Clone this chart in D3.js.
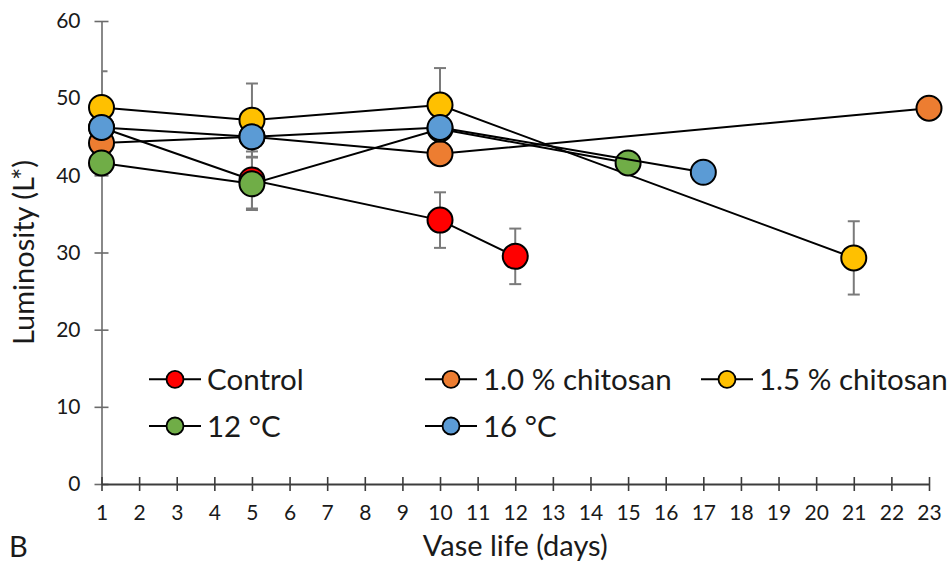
<!DOCTYPE html>
<html>
<head>
<meta charset="utf-8">
<script src="https://cdn.jsdelivr.net/npm/d3@7"></script>
<style>
  html, body { margin: 0; padding: 0; background: #fff; }
  svg { display: block; font-family: Lato, "Open Sans", sans-serif; }
</style>
</head>
<body>
<svg id="chart" width="949" height="567"></svg>
<script>
// Vase life sampling days and luminosity (L*) per treatment
const seriesNames = ["Control", "1.0 % chitosan", "1.5 % chitosan", "12 °C", "16 °C"];
const seriesColors = ["#FF0000", "#ED7D31", "#FFC000", "#70AD47", "#5B9BD5"];

const controlDays = [1, 5, 10, 12];
const controlL = [46.2, 39.4, 34.2, 29.5];
const controlErr = [null, 3.7, 3.6, 3.6];

const chitosan10Days = [1, 5, 10, 23];
const chitosan10L = [44.2, 45.0, 42.8, 48.7];
const chitosan10Err = [null, null, null, null];

const chitosan15Days = [1, 5, 10, 21];
const chitosan15L = [48.8, 47.15, 49.1, 29.3];
const chitosan15Err = [4.7, 4.75, 4.8, 4.75];

const temp12Days = [1, 5, 10, 15];
const temp12L = [41.6, 38.9, 46.0, 41.6];
const temp12Err = [null, 3.4, null, null];

const temp16Days = [1, 5, 10, 17];
const temp16L = [46.2, 45.0, 46.2, 40.4];
const temp16Err = [null, null, null, null];

const xTicks = d3.range(1, 24);
const yTicks = [0, 10, 20, 30, 40, 50, 60];

const allDays = [controlDays, chitosan10Days, chitosan15Days, temp12Days, temp16Days];
const allL = [controlL, chitosan10L, chitosan15L, temp12L, temp16L];
const allErr = [controlErr, chitosan10Err, chitosan15Err, temp12Err, temp16Err];

const series = seriesNames.map((name, i) => ({
  name,
  color: seriesColors[i],
  points: allDays[i].map((d, j) => ({ day: d, value: allL[i][j], err: allErr[i][j] }))
}));

const svg = d3.select("#chart");
const x = d3.scaleLinear().domain([1, 23]).range([101.5, 929]);
const y = d3.scaleLinear().domain([0, 60]).range([484, 21]);

const axisColor = "#6b6b6b";

// clip for error bars (plot area)
svg.append("defs").append("clipPath").attr("id", "plotClip")
  .append("rect").attr("x", x(1)).attr("y", 0).attr("width", 949 - x(1)).attr("height", 567);

// Y axis
const yAxis = svg.append("g")
  .attr("transform", `translate(${x(1)},0)`)
  .call(d3.axisLeft(y).tickValues(yTicks).tickSizeInner(7).tickSizeOuter(0).tickPadding(14));
yAxis.select(".domain").attr("stroke", axisColor).attr("stroke-width", 1.6);
yAxis.selectAll(".tick line").attr("stroke", axisColor).attr("stroke-width", 1.6).attr("x2", 7).attr("x1", -7);
yAxis.selectAll(".tick text").attr("x", -21).attr("font-size", 21).attr("fill", "#1a1a1a")
  .attr("font-family", "Lato, sans-serif");

// X axis
const xAxis = svg.append("g")
  .attr("transform", `translate(0,${y(0)})`)
  .call(d3.axisBottom(x).tickValues(xTicks).tickFormat(d3.format("d")).tickSizeInner(7).tickSizeOuter(0).tickPadding(14));
xAxis.select(".domain").attr("stroke", "#3c3c3c").attr("stroke-width", 2);
xAxis.selectAll(".tick line").attr("stroke", "#3c3c3c").attr("stroke-width", 1.6).attr("y1", -7).attr("y2", 7);
xAxis.selectAll(".tick text").attr("font-size", 21).attr("fill", "#1a1a1a")
  .attr("font-family", "Lato, sans-serif").attr("dy", "0.71em").attr("y", 21);

// Axis titles and panel letter
svg.append("text").attr("x", (x(1) + x(23)) / 2).attr("y", 556)
  .attr("text-anchor", "middle").attr("font-size", 29).attr("fill", "#1a1a1a")
  .text("Vase life (days)");
svg.append("text")
  .attr("transform", `translate(34,${(y(0) + y(60)) / 2}) rotate(-90)`)
  .attr("text-anchor", "middle").attr("font-size", 29).attr("fill", "#1a1a1a")
  .text("Luminosity (L*)");
svg.append("text").attr("x", 9).attr("y", 557).attr("font-size", 29).attr("fill", "#1a1a1a").text("B");

// Error bars
const errG = svg.append("g").attr("clip-path", "url(#plotClip)");
const cap = 6;
series.forEach(s => {
  s.points.filter(p => p.err != null).forEach(p => {
    const g = errG.append("g").attr("stroke", "#7a7a7a").attr("stroke-width", 2);
    const cx = x(p.day), yt = y(p.value + p.err), yb = y(p.value - p.err);
    g.append("line").attr("x1", cx).attr("x2", cx).attr("y1", yt).attr("y2", yb);
    g.append("line").attr("x1", cx - cap).attr("x2", cx + cap).attr("y1", yt).attr("y2", yt);
    g.append("line").attr("x1", cx - cap).attr("x2", cx + cap).attr("y1", yb).attr("y2", yb);
  });
});

// Lines and markers, series by series
const line = d3.line().x(d => x(d.day)).y(d => y(d.value));
series.forEach(s => {
  const g = svg.append("g");
  g.append("path").datum(s.points).attr("d", line)
    .attr("fill", "none").attr("stroke", "#000").attr("stroke-width", 2);
  g.selectAll("circle").data(s.points).join("circle")
    .attr("cx", d => x(d.day)).attr("cy", d => y(d.value)).attr("r", 12.5)
    .attr("fill", s.color).attr("stroke", "#000").attr("stroke-width", 2);
});

// Legend
const legendCols = [175, 451, 727];
const legendRows = [379.3, 426];
const lg = svg.append("g");
series.forEach((s, i) => {
  const cx = legendCols[i % 3], cy = legendRows[Math.floor(i / 3)];
  const item = lg.append("g");
  item.append("line").attr("x1", cx - 26).attr("x2", cx + 26).attr("y1", cy).attr("y2", cy)
    .attr("stroke", "#000").attr("stroke-width", 2);
  item.append("circle").attr("cx", cx).attr("cy", cy).attr("r", 8.5)
    .attr("fill", s.color).attr("stroke", "#000").attr("stroke-width", 1.8);
  item.append("text").attr("x", cx + 32).attr("y", cy + 10.5)
    .attr("font-size", 29.5).attr("fill", "#1a1a1a").text(s.name);
});
</script>
</body>
</html>
